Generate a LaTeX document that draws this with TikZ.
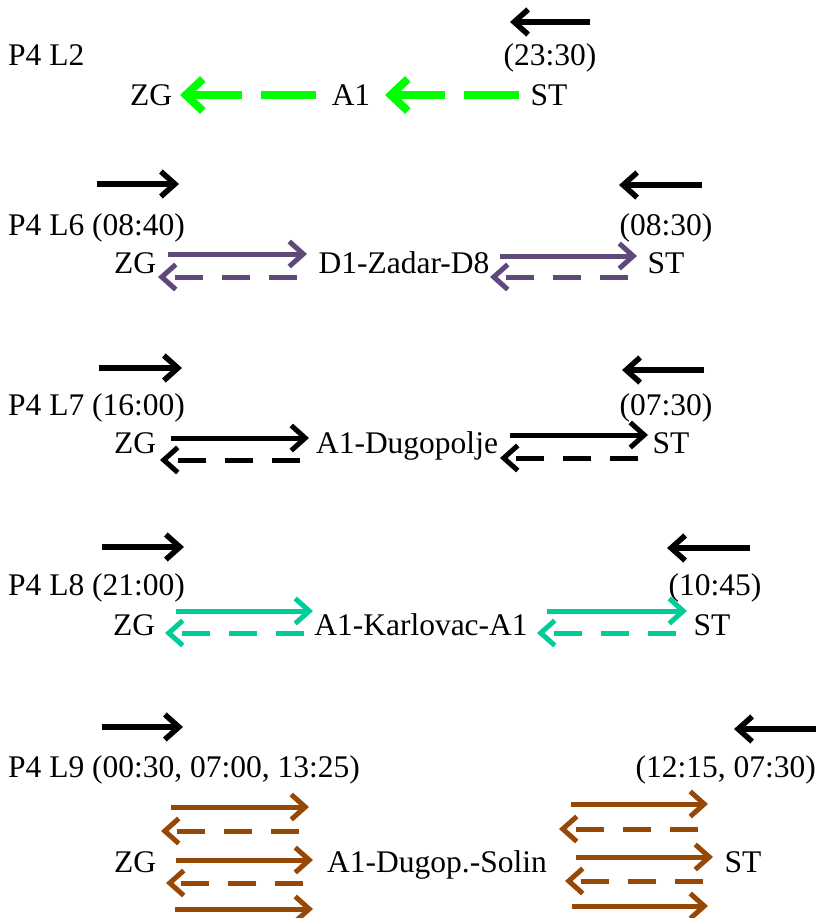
\documentclass[tikz,border=0pt]{standalone}
\usepackage{fontspec}
\setmainfont{Liberation Serif}
\usetikzlibrary{arrows.meta}
\definecolor{lgreen}{HTML}{00FF00}
\definecolor{lpurple}{HTML}{5F497A}
\definecolor{lteal}{HTML}{00CC99}
\definecolor{lbrown}{HTML}{974806}
\begin{document}
\begin{tikzpicture}[x=1pt,y=-1pt,
  txt/.style={inner sep=0pt,anchor=base,font=\fontsize{31.5}{36}\selectfont},
  ltxt/.style={txt,anchor=base west},
  rtxt/.style={txt,anchor=base east},
  tip/.style={-{Straight Barb[length=14pt,width=25pt]}},
  blk/.style={tip,line width=5.5pt,black},
  col/.style={tip,line width=5pt},
  dsh/.style={dash pattern=on 28pt off 19pt},
  grn/.style={-{Straight Barb[length=17pt,width=32pt]},line width=8pt,lgreen,dash pattern=on 55pt off 19pt}]
\useasboundingbox (0,0) rectangle (816,918);
% ---------------- Row L2
\node[ltxt] (l2) at (8,65) {P4 L2};
\node[txt] (t2) at (550,65) {(23:30)};
\node[txt] (zg2) at (151,105) {ZG};
\node[txt] (a2) at (351,105) {A1};
\node[txt] (st2) at (549,105) {ST};
\coordinate (b2s) at (590,22); \coordinate (b2e) at (510,22);
\draw[blk] (b2s) -- (b2e);
\coordinate (g1s) at (316,95); \coordinate (g1e) at (180,95);
\coordinate (g2s) at (519,95); \coordinate (g2e) at (385,95);
\draw[grn] (g1s) -- (g1e);
\draw[grn] (g2s) -- (g2e);
% ---------------- Row L6
\node[ltxt] (l6) at (8,235) {P4 L6 (08:40)};
\node[txt] (t6) at (666,235) {(08:30)};
\node[txt] (zg6) at (135,273) {ZG};
\node[txt] (m6) at (404,273) {D1-Zadar-D8};
\node[txt] (st6) at (666,273) {ST};
\coordinate (b6as) at (97,184); \coordinate (b6ae) at (179,184);
\coordinate (b6bs) at (702,185); \coordinate (b6be) at (619,185);
\draw[blk] (b6as) -- (b6ae);
\draw[blk] (b6bs) -- (b6be);
\coordinate (p1s) at (168,254); \coordinate (p1e) at (307,254);
\coordinate (p2s) at (297,277); \coordinate (p2e) at (158,277);
\coordinate (p3s) at (500,256); \coordinate (p3e) at (637,256);
\coordinate (p4s) at (628,277); \coordinate (p4e) at (490,277);
\draw[col,lpurple] (p1s) -- (p1e);
\draw[col,lpurple,dsh] (p2s) -- (p2e);
\draw[col,lpurple] (p3s) -- (p3e);
\draw[col,lpurple,dsh] (p4s) -- (p4e);
% ---------------- Row L7
\node[ltxt] (l7) at (8,415) {P4 L7 (16:00)};
\node[txt] (t7) at (666,415) {(07:30)};
\node[txt] (zg7) at (135,453) {ZG};
\node[txt] (m7) at (407,453) {A1-Dugopolje};
\node[txt] (st7) at (671,453) {ST};
\coordinate (b7as) at (99,368); \coordinate (b7ae) at (182,368);
\coordinate (b7bs) at (704,370); \coordinate (b7be) at (622,370);
\draw[blk] (b7as) -- (b7ae);
\draw[blk] (b7bs) -- (b7be);
\coordinate (k1s) at (171,438); \coordinate (k1e) at (309,438);
\coordinate (k2s) at (300,460); \coordinate (k2e) at (160,460);
\coordinate (k3s) at (510,435); \coordinate (k3e) at (648,435);
\coordinate (k4s) at (638,458); \coordinate (k4e) at (500,458);
\draw[col,black] (k1s) -- (k1e);
\draw[col,black,dsh] (k2s) -- (k2e);
\draw[col,black] (k3s) -- (k3e);
\draw[col,black,dsh] (k4s) -- (k4e);
% ---------------- Row L8
\node[ltxt] (l8) at (8,595) {P4 L8 (21:00)};
\node[txt] (t8) at (715,595) {(10:45)};
\node[txt] (zg8) at (134,635) {ZG};
\node[txt] (m8) at (421,635) {A1-Karlovac-A1};
\node[txt] (st8) at (712,635) {ST};
\coordinate (b8as) at (102,547); \coordinate (b8ae) at (184,547);
\coordinate (b8bs) at (750,548); \coordinate (b8be) at (667,548);
\draw[blk] (b8as) -- (b8ae);
\draw[blk] (b8bs) -- (b8be);
\coordinate (c1s) at (176,611); \coordinate (c1e) at (313,611);
\coordinate (c2s) at (304,633); \coordinate (c2e) at (165,633);
\coordinate (c3s) at (547,611); \coordinate (c3e) at (687,611);
\coordinate (c4s) at (676,633); \coordinate (c4e) at (537,633);
\draw[col,lteal] (c1s) -- (c1e);
\draw[col,lteal,dsh] (c2s) -- (c2e);
\draw[col,lteal] (c3s) -- (c3e);
\draw[col,lteal,dsh] (c4s) -- (c4e);
% ---------------- Row L9
\node[ltxt] (l9) at (8,777) {P4 L9 (00:30, 07:00, 13:25)};
\node[rtxt] (t9) at (816,777) {(12:15, 07:30)};
\node[txt] (zg9) at (135,872) {ZG};
\node[txt] (m9) at (437,872) {A1-Dugop.-Solin};
\node[txt] (st9) at (743,872) {ST};
\coordinate (b9as) at (102,727); \coordinate (b9ae) at (183,727);
\coordinate (b9bs) at (822,729); \coordinate (b9be) at (734,729);
\draw[blk] (b9as) -- (b9ae);
\draw[blk] (b9bs) -- (b9be);
\coordinate (r1s) at (171,807); \coordinate (r1e) at (309,807);
\coordinate (r2s) at (299,831); \coordinate (r2e) at (161,831);
\coordinate (r3s) at (176,860); \coordinate (r3e) at (313,860);
\coordinate (r4s) at (303,883); \coordinate (r4e) at (166,883);
\coordinate (r5s) at (175,909); \coordinate (r5e) at (313,909);
\coordinate (s1s) at (571,804); \coordinate (s1e) at (708,804);
\coordinate (s2s) at (698,829); \coordinate (s2e) at (559,829);
\coordinate (s3s) at (576,857); \coordinate (s3e) at (713,857);
\coordinate (s4s) at (703,881); \coordinate (s4e) at (565,881);
\coordinate (s5s) at (572,906); \coordinate (s5e) at (708,906);
\draw[col,lbrown] (r1s) -- (r1e);
\draw[col,lbrown,dsh] (r2s) -- (r2e);
\draw[col,lbrown] (r3s) -- (r3e);
\draw[col,lbrown,dsh] (r4s) -- (r4e);
\draw[col,lbrown] (r5s) -- (r5e);
\draw[col,lbrown] (s1s) -- (s1e);
\draw[col,lbrown,dsh] (s2s) -- (s2e);
\draw[col,lbrown] (s3s) -- (s3e);
\draw[col,lbrown,dsh] (s4s) -- (s4e);
\draw[col,lbrown] (s5s) -- (s5e);
\end{tikzpicture}
\end{document}
